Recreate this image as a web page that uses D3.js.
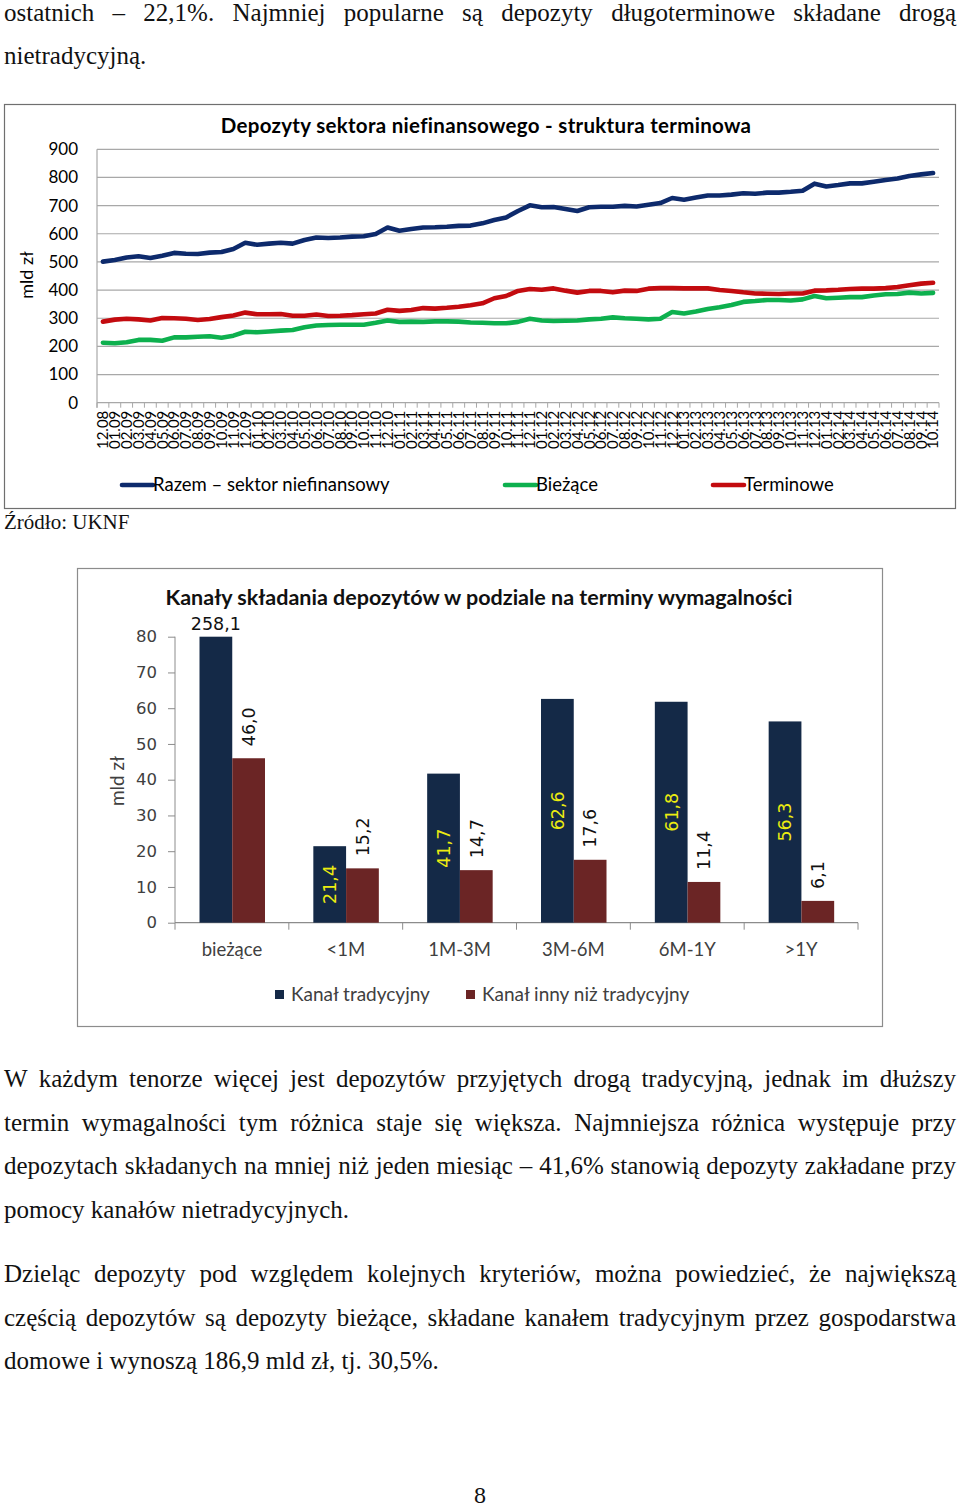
<!DOCTYPE html>
<html><head><meta charset="utf-8">
<script src="https://cdn.jsdelivr.net/npm/d3@7"></script>
<style>body{margin:0;background:#fff} svg{display:block}</style>
</head><body>
<svg id="page" width="960" height="1509"></svg>
<script>
// ---------- DATA ----------
const months = ["12.08","01.09","02.09","03.09","04.09","05.09","06.09","07.09","08.09","09.09","10.09","11.09","12.09",
"01.10","02.10","03.10","04.10","05.10","06.10","07.10","08.10","09.10","10.10","11.10","12.10",
"01.11","02.11","03.11","04.11","05.11","06.11","07.11","08.11","09.11","10.11","11.11","12.11",
"01.12","02.12","03.12","04.12","05.12","06.12","07.12","08.12","09.12","10.12","11.12","12.12",
"01.13","02.13","03.13","04.13","05.13","06.13","07.13","08.13","09.13","10.13","11.13","12.13",
"01.14","02.14","03.14","04.14","05.14","06.14","07.14","08.14","09.14","10.14"];
const totalDeposits = [501,507,516,520,514,522,532,529,528,533,535,546,568,
561,565,568,565,578,587,585,587,590,591,599,
622,611,617,622,623,625,628,629,
637,649,658,681,701,694,695,688,681,694,696,696,699,697,703,709,
727,721,729,736,736,739,744,742,746,746,749,753,
778,768,773,779,779,785,791,796,805,811,816];
const currentDeposits = [213,211,215,223,223,220,232,232,234,236,231,238,252,
250,253,256,258,268,274,276,277,277,277,284,
292,287,288,287,289,289,288,285,
284,282,282,287,298,292,290,291,292,296,298,303,300,298,296,298,
322,317,324,333,339,347,358,361,365,365,363,367,
379,371,373,375,375,381,385,386,391,388,390];
const termDeposits = [288,295,298,296,292,301,300,298,294,297,304,310,320,
314,314,315,309,309,313,308,309,311,314,317,
330,326,329,336,334,337,341,346,
353,371,379,397,404,401,406,398,391,397,397,392,398,397,405,407,
407,406,406,406,400,397,392,388,387,386,388,388,
398,399,401,404,405,405,407,411,417,423,426];
const lineYTicks = [0,100,200,300,400,500,600,700,800,900];
const lineSeriesNames = ["Razem – sektor niefinansowy","Bieżące","Terminowe"];
const lineTitle = "Depozyty sektora niefinansowego - struktura terminowa";

const barCategories = ["bieżące","<1M","1M-3M","3M-6M","6M-1Y",">1Y"];
const traditionalChannel = [258.1,21.4,41.7,62.6,61.8,56.3];
const otherChannel = [46.0,15.2,14.7,17.6,11.4,6.1];
const barYTicks = [0,10,20,30,40,50,60,70,80];
const barSeriesNames = ["Kanał tradycyjny","Kanał inny niż tradycyjny"];
const barTitle = "Kanały składania depozytów w podziale na terminy wymagalności";

const topLines = [
  ["ostatnich – 22,1%. Najmniej popularne są depozyty długoterminowe składane drogą", true],
  ["nietradycyjną.", false]];
const para1 = [
  ["W każdym tenorze więcej jest depozytów przyjętych drogą tradycyjną, jednak im dłuższy", true],
  ["termin wymagalności tym różnica staje się większa. Najmniejsza różnica występuje przy", true],
  ["depozytach składanych na mniej niż jeden miesiąc – 41,6% stanowią depozyty zakładane przy", true],
  ["pomocy kanałów nietradycyjnych.", false]];
const para2 = [
  ["Dzieląc depozyty pod względem kolejnych kryteriów, można powiedzieć, że największą", true],
  ["częścią depozytów są depozyty bieżące, składane kanałem tradycyjnym przez gospodarstwa", true],
  ["domowe i wynoszą 186,9 mld zł, tj. 30,5%.", false]];
const sourceText = "Źródło: UKNF";
const pageNumber = "8";

// ---------- RENDER ----------
const svg = d3.select("#page");
const SERIF = "'Liberation Serif','Times New Roman',serif";
const SANS = "Lato,'Open Sans',sans-serif";
const DV = "'DejaVu Sans',Verdana,sans-serif";
const BODY = 25;

function textLine(str, y, justify, x0 = 4, x1 = 956, size = BODY) {
  const t = svg.append("text").attr("y", y).attr("font-family", SERIF)
    .attr("font-size", size).attr("fill", "#111");
  const words = str.split(" ");
  const spans = words.map(w => t.append("tspan").text(w));
  const widths = spans.map(s => s.node().getComputedTextLength());
  const total = d3.sum(widths);
  const gap = justify && words.length > 1 ? (x1 - x0 - total) / (words.length - 1) : size * 0.25;
  let x = x0;
  spans.forEach((s, i) => { s.attr("x", x); x += widths[i] + gap; });
}
function block(lines, y0, step) { lines.forEach((l, i) => textLine(l[0], y0 + i * step, l[1])); }

block(topLines, 21, 42.5);
block(para1, 1087, 43.5);
block(para2, 1282, 43.5);
svg.append("text").attr("x", 480).attr("y", 1503).attr("text-anchor", "middle")
  .attr("font-family", SERIF).attr("font-size", 24).attr("fill", "#111").text(pageNumber);
svg.append("text").attr("x", 4).attr("y", 529).attr("font-family", SERIF)
  .attr("font-size", 21).attr("fill", "#111").text(sourceText);

// ----- line chart -----
const lc = svg.append("g");
lc.append("rect").attr("x", 4.5).attr("y", 104.5).attr("width", 951).attr("height", 404)
  .attr("fill", "none").attr("stroke", "#6f6f6f").attr("stroke-width", 1.2);
const x = d3.scaleBand().domain(months).range([97, 939]);
const y = d3.scaleLinear().domain([0, 900]).range([402.7, 149.3]);
const bw = x.bandwidth();

lc.append("g").selectAll("line").data(lineYTicks).join("line")
  .attr("x1", 97).attr("x2", 939).attr("y1", d => y(d)).attr("y2", d => y(d))
  .attr("stroke", "#a8a8a8").attr("stroke-width", 1.2);
lc.append("line").attr("x1", 97).attr("x2", 97).attr("y1", y(900)).attr("y2", y(0) + 5)
  .attr("stroke", "#a8a8a8").attr("stroke-width", 1.2);
const bounds = months.map(m => x(m)).concat([x.range()[1]]);
lc.append("g").selectAll("line").data(bounds).join("line")
  .attr("x1", d => d).attr("x2", d => d).attr("y1", y(0)).attr("y2", y(0) + 5)
  .attr("stroke", "#a8a8a8").attr("stroke-width", 1);

const yAxis = lc.append("g").attr("transform", "translate(97,0)")
  .call(d3.axisLeft(y).tickValues(lineYTicks).tickSize(0).tickPadding(19));
yAxis.select(".domain").remove();
yAxis.selectAll("text").attr("font-family", SANS).attr("font-size", 17).attr("fill", "#000");

const xAxis = lc.append("g").attr("transform", `translate(0,${y(0)})`)
  .call(d3.axisBottom(x).tickSize(0));
xAxis.select(".domain").remove();
xAxis.selectAll("text").attr("font-family", SANS).attr("font-size", 15).attr("fill", "#000")
  .attr("text-anchor", "end").attr("dy", "0.36em").attr("y", 0)
  .attr("transform", "translate(0,8) rotate(-90)");

lc.append("text").attr("transform", "translate(33,275) rotate(-90)").attr("text-anchor", "middle")
  .attr("font-family", SANS).attr("font-size", 18).attr("fill", "#000").text("mld zł");
lc.append("text").attr("x", 486).attr("y", 133).attr("text-anchor", "middle")
  .attr("font-family", SANS).attr("font-weight", "bold").attr("font-size", 20.5)
  .attr("letter-spacing", 0.3).attr("fill", "#000")
  .text(lineTitle);

const lineColors = ["#0d2a6c", "#0db04e", "#c30b0f"];
const seriesData = [totalDeposits, currentDeposits, termDeposits];
const line = d3.line().x((d, i) => x(months[i]) + bw / 2).y(d => y(d));
[2, 1, 0].forEach(k => {
  lc.append("path").datum(seriesData[k]).attr("d", line).attr("fill", "none")
    .attr("stroke", lineColors[k]).attr("stroke-width", 4.6)
    .attr("stroke-linejoin", "round").attr("stroke-linecap", "round");
});
const legX = [122, 505, 713];
lineSeriesNames.forEach((n, k) => {
  lc.append("line").attr("x1", legX[k]).attr("x2", legX[k] + 31).attr("y1", 485).attr("y2", 485)
    .attr("stroke", lineColors[k]).attr("stroke-width", 4.6).attr("stroke-linecap", "round");
  lc.append("text").attr("x", legX[k] + 31).attr("y", 491).attr("font-family", SANS)
    .attr("font-size", 18.5).attr("fill", "#000").text(n);
});

// ----- bar chart -----
const bc = svg.append("g");
bc.append("rect").attr("x", 77.5).attr("y", 568.5).attr("width", 805).attr("height", 458)
  .attr("fill", "none").attr("stroke", "#8c8c8c").attr("stroke-width", 1.2);
const x0 = d3.scaleBand().domain(barCategories).range([175, 858]);
const x1 = d3.scaleBand().domain([0, 1]).range([24.5, 90]);
const yb = d3.scaleLinear().domain([0, 80]).range([922.7, 636.7]).clamp(true);
const barColors = ["#142947", "#6b2525"];
const fmt = v => d3.format(".1f")(v).replace(".", ",");

bc.append("text").attr("x", 479).attr("y", 605).attr("text-anchor", "middle")
  .attr("font-family", SANS).attr("font-weight", "bold").attr("font-size", 21.5).attr("fill", "#111")
  .text(barTitle);

const ybAxis = bc.append("g").attr("transform", "translate(175,0)")
  .call(d3.axisLeft(yb).tickValues(barYTicks).tickSize(7).tickPadding(11));
ybAxis.select(".domain").attr("stroke", "#8c8c8c").attr("d", `M0,${yb(80)}V${yb(0)}`);
ybAxis.selectAll("line").attr("stroke", "#8c8c8c");
ybAxis.selectAll("text").attr("font-family", DV).attr("font-size", 16.5).attr("fill", "#404040");

bc.append("line").attr("x1", 175).attr("x2", 858).attr("y1", yb(0)).attr("y2", yb(0))
  .attr("stroke", "#8c8c8c").attr("stroke-width", 1.2);
const bBounds = barCategories.map(c => x0(c)).concat([x0.range()[1]]);
bc.append("g").selectAll("line").data(bBounds).join("line")
  .attr("x1", d => d).attr("x2", d => d).attr("y1", yb(0)).attr("y2", yb(0) + 7)
  .attr("stroke", "#8c8c8c");
const xbAxis = bc.append("g").attr("transform", `translate(0,${yb(0)})`)
  .call(d3.axisBottom(x0).tickSize(0).tickPadding(20));
xbAxis.select(".domain").remove();
xbAxis.selectAll("text").attr("font-family", SANS).attr("font-size", 18.5).attr("fill", "#404040");

bc.append("text").attr("transform", "translate(124,781) rotate(-90)").attr("text-anchor", "middle")
  .attr("font-family", SANS).attr("font-size", 19).attr("fill", "#404040").text("mld zł");

const barSeries = [traditionalChannel, otherChannel];
barSeries.forEach((vals, s) => {
  bc.append("g").selectAll("rect").data(vals).join("rect")
    .attr("x", (d, i) => x0(barCategories[i]) + x1(s)).attr("width", x1.bandwidth())
    .attr("y", d => yb(d)).attr("height", d => yb(0) - yb(d)).attr("fill", barColors[s]);
});
// labels
traditionalChannel.forEach((v, i) => {
  const cx = x0(barCategories[i]) + x1(0) + x1.bandwidth() / 2;
  if (v > 80) {
    bc.append("text").attr("x", cx).attr("y", yb(80) - 7).attr("text-anchor", "middle")
      .attr("font-family", DV).attr("font-size", 17.5).attr("fill", "#111").text(fmt(v));
  } else {
    const cy = (yb(v) + yb(0)) / 2;
    bc.append("text").attr("transform", `translate(${cx},${cy}) rotate(-90)`).attr("text-anchor", "middle")
      .attr("dy", "0.36em").attr("font-family", DV).attr("font-size", 17.5).attr("fill", "#ecec10").text(fmt(v));
  }
});
otherChannel.forEach((v, i) => {
  const cx = x0(barCategories[i]) + x1(1) + x1.bandwidth() / 2;
  bc.append("text").attr("transform", `translate(${cx},${yb(v) - 12}) rotate(-90)`).attr("text-anchor", "start")
    .attr("dy", "0.36em").attr("font-family", DV).attr("font-size", 17.5).attr("fill", "#111").text(fmt(v));
});
const blegX = [275, 466];
barSeriesNames.forEach((n, k) => {
  bc.append("rect").attr("x", blegX[k]).attr("y", 990).attr("width", 9).attr("height", 9).attr("fill", barColors[k]);
  bc.append("text").attr("x", blegX[k] + 16).attr("y", 1001).attr("font-family", SANS)
    .attr("font-size", 19).attr("fill", "#404040").text(n);
});
</script>
</body></html>
